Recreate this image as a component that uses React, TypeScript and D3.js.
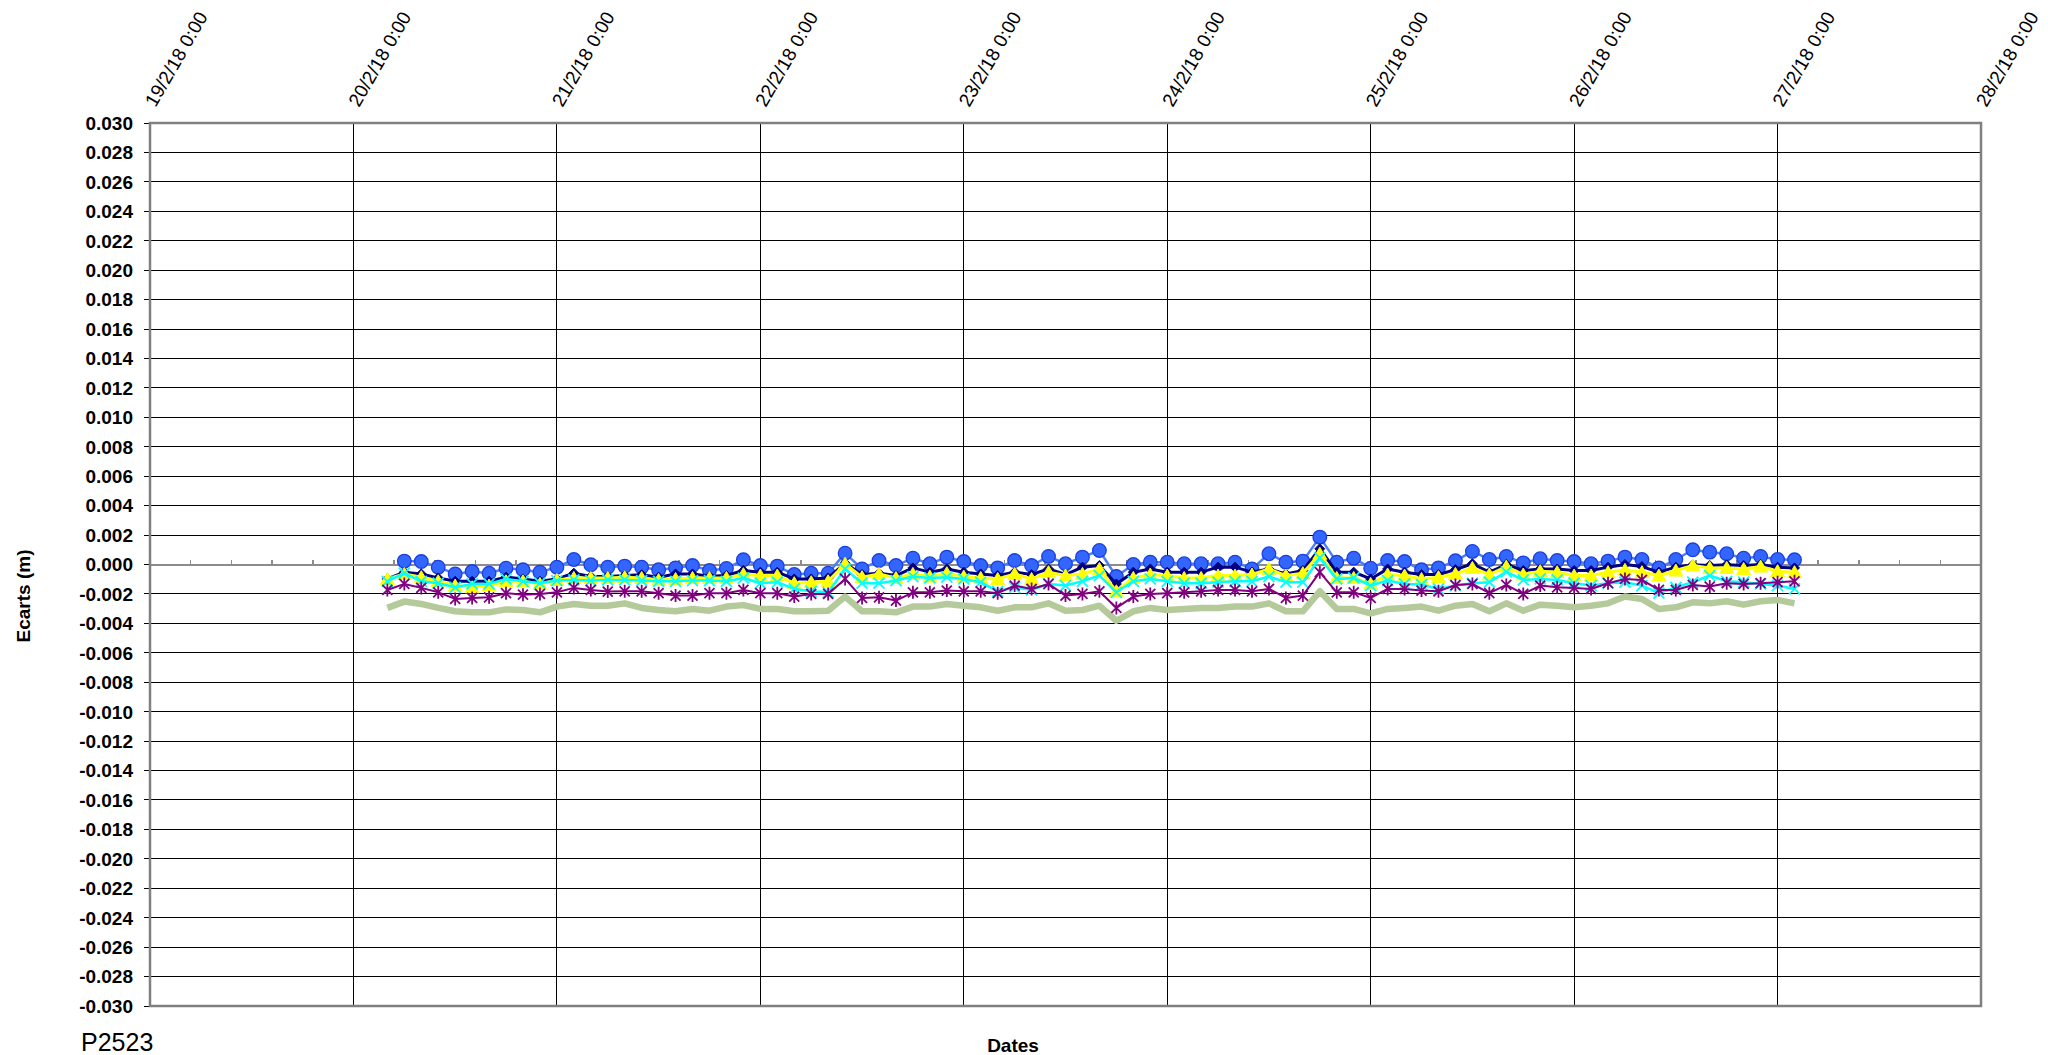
import { useMemo } from 'react';
import * as d3 from 'd3';

// time span of the chart and readings (one every 2 h)
const axisStart = new Date(2018, 1, 19, 0, 0);
const axisEnd = new Date(2018, 1, 28, 0, 0);
const firstReading = new Date(2018, 1, 20, 4, 0);
const lastReading = new Date(2018, 1, 27, 2, 0);

const pointLabel = 'P2523';
const xTitle = 'Dates';
const yTitle = 'Ecarts (m)';

// ecarts (m)
const serieBlue: (number | null)[] = [
  null, 0.00023, 0.0002, -0.00018, -0.00064, -0.00048, -0.00059, -0.00025, -0.00036, -0.00052,
  -0.00018, 0.00034, -0.00002, -0.00018, -0.00011, -0.00018, -0.00036, -0.00023, -0.00007, -0.00041,
  -0.00027, 0.00032, -0.00007, -0.00011, -0.00068, -0.00059, -0.00059, 0.00077, -0.0003, 0.00027,
  -0.00007, 0.00043, 0.00005, 0.0005, 0.0002, -0.00007, -0.00023, 0.00027, -0.00007, 0.00055,
  0.00005, 0.0005, 0.00095, -0.00082, 0.0, 0.00016, 0.00016, 0.00005, 0.00005, 0.00005,
  0.00016, -0.0003, 0.00073, 0.00016, 0.00023, 0.00186, 0.00016, 0.00043, -0.00025, 0.00027,
  0.0002, -0.00036, -0.00023, 0.00025, 0.00089, 0.00034, 0.00055, 0.00011, 0.00039, 0.00027,
  0.0002, 0.00005, 0.00023, 0.0005, 0.00034, -0.00023, 0.00034, 0.001, 0.00084, 0.00073,
  0.00043, 0.00055, 0.00034, 0.00032,
];
const serieNavy: number[] = [
  -0.00098, -0.00052, -0.00064, -0.00091, -0.00114, -0.00114, -0.00114, -0.00086, -0.00098, -0.00114,
  -0.00098, -0.00059, -0.00082, -0.00082, -0.00075, -0.0007, -0.00086, -0.00064, -0.00064, -0.0008,
  -0.00075, -0.00041, -0.00052, -0.00052, -0.00098, -0.00098, -0.00091, 0.00009, -0.00068, -0.00059,
  -0.00075, -0.00023, -0.00052, -0.0003, -0.00052, -0.00064, -0.00075, -0.00052, -0.00068, -0.0003,
  -0.00068, -0.00018, -0.00007, -0.00132, -0.00052, -0.0003, -0.00052, -0.00052, -0.00052, -0.00018,
  -0.00018, -0.00052, -0.0003, -0.00064, -0.00041, 0.00107, -0.00052, -0.00052, -0.00098, -0.0003,
  -0.00052, -0.00068, -0.00068, -0.00035, 0.00005, -0.00052, 0.0, -0.00041, -0.0003, -0.0003,
  -0.00041, -0.00041, -0.00018, 0.0, -0.00014, -0.00052, -0.00018, -0.00002, -0.00007, -0.00002,
  -0.00007, 0.0, -0.00018, -0.00023,
];
const serieYellow: number[] = [
  -0.00098, -0.00064, -0.00086, -0.00114, -0.00143, -0.00155, -0.00143, -0.00114, -0.00114, -0.00132,
  -0.00105, -0.00091, -0.00091, -0.00091, -0.00086, -0.00091, -0.00105, -0.00098, -0.00091, -0.00091,
  -0.00091, -0.00066, -0.00075, -0.00075, -0.00127, -0.0012, -0.00114, 0.00005, -0.00086, -0.00064,
  -0.00091, -0.00064, -0.00082, -0.00059, -0.00082, -0.00091, -0.00098, -0.00064, -0.00098, -0.00052,
  -0.00075, -0.00064, -0.0003, -0.00182, -0.00091, -0.00068, -0.00075, -0.00091, -0.00091, -0.00075,
  -0.00075, -0.00068, -0.0003, -0.00075, -0.00059, 0.00073, -0.00091, -0.00091, -0.00132, -0.00068,
  -0.00075, -0.00098, -0.00086, -0.00064, -0.00023, -0.00068, -0.00014, -0.00068, -0.00045, -0.00052,
  -0.00075, -0.00075, -0.00052, -0.00036, -0.00052, -0.00075, -0.00041, -0.00007, -0.00023, -0.00023,
  -0.0003, -0.00014, -0.00045, -0.00052,
];
const serieCyan: number[] = [
  -0.00114, -0.00059, -0.00114, -0.00127, -0.00155, -0.00132, -0.00132, -0.00098, -0.00114, -0.00127,
  -0.00109, -0.00105, -0.00109, -0.00105, -0.00105, -0.00109, -0.00114, -0.00114, -0.00109, -0.00109,
  -0.00114, -0.00092, -0.00127, -0.0012, -0.00166, -0.00182, -0.00189, -0.0003, -0.00127, -0.00127,
  -0.00109, -0.00082, -0.00091, -0.00086, -0.00098, -0.0012, -0.00182, -0.00155, -0.00173, -0.00132,
  -0.00143, -0.00114, -0.00075, -0.00189, -0.00114, -0.00098, -0.00114, -0.00127, -0.00127, -0.0012,
  -0.00114, -0.00114, -0.00082, -0.0012, -0.0012, 0.00045, -0.00098, -0.00091, -0.00143, -0.00109,
  -0.00132, -0.00136, -0.00166, -0.00143, -0.00127, -0.0012, -0.0005, -0.00105, -0.00098, -0.00105,
  -0.00127, -0.00143, -0.00127, -0.0012, -0.00143, -0.00195, -0.00155, -0.0012, -0.00075, -0.00114,
  -0.0012, -0.00132, -0.00143, -0.00166,
];
const seriePurple: number[] = [
  -0.00173, -0.00132, -0.00159, -0.00189, -0.00234, -0.00227, -0.00223, -0.00195, -0.00205, -0.002,
  -0.00189, -0.00159, -0.00173, -0.00184, -0.00182, -0.00182, -0.00195, -0.00211, -0.00211, -0.00195,
  -0.00195, -0.00173, -0.00195, -0.00195, -0.00218, -0.002, -0.002, -0.00098, -0.00227, -0.00223,
  -0.00245, -0.00189, -0.00189, -0.00177, -0.00182, -0.00182, -0.00195, -0.00143, -0.00166, -0.00132,
  -0.00211, -0.002, -0.00182, -0.00295, -0.00218, -0.002, -0.00195, -0.00189, -0.00182, -0.00173,
  -0.00173, -0.00182, -0.00166, -0.00227, -0.00211, -0.00052, -0.00189, -0.00189, -0.00227, -0.00166,
  -0.00166, -0.00177, -0.00182, -0.0014, -0.00132, -0.00195, -0.00139, -0.002, -0.00143, -0.00155,
  -0.00159, -0.00166, -0.00127, -0.00098, -0.00105, -0.00173, -0.00173, -0.00139, -0.0015, -0.00127,
  -0.00132, -0.00127, -0.0012, -0.00114,
];
const serieGreen: number[] = [
  -0.00295, -0.00252, -0.00268, -0.00295, -0.00318, -0.00325, -0.00325, -0.00305, -0.00309, -0.00325,
  -0.00286, -0.00268, -0.0028, -0.0028, -0.00264, -0.00295, -0.00309, -0.00318, -0.00302, -0.00314,
  -0.00286, -0.00276, -0.00302, -0.00302, -0.00318, -0.00318, -0.00314, -0.00218, -0.00318, -0.00318,
  -0.00325, -0.00286, -0.00286, -0.00268, -0.0028, -0.00291, -0.00314, -0.00291, -0.00291, -0.00264,
  -0.00314, -0.00309, -0.0028, -0.00382, -0.00318, -0.00295, -0.00309, -0.00302, -0.00295, -0.00295,
  -0.00286, -0.00286, -0.00264, -0.00318, -0.00318, -0.00182, -0.00302, -0.00302, -0.00332, -0.00302,
  -0.00295, -0.00286, -0.00314, -0.0028, -0.00268, -0.00318, -0.00264, -0.00314, -0.00273, -0.0028,
  -0.00291, -0.0028, -0.00264, -0.00218, -0.00234, -0.00302, -0.00291, -0.00257, -0.00264, -0.0025,
  -0.00273, -0.0025, -0.00241, -0.00264,
];

const width = 2048;
const height = 1055;
const margin = { top: 123, right: 67, bottom: 49, left: 150 };
const font = '"Liberation Sans", Arial, sans-serif';

type Marker = 'circle' | 'diamond' | 'triangle' | 'x' | 'star' | 'none';
interface Serie {
  values: (number | null)[];
  stroke: string;
  lineWidth: number;
  marker: Marker;
  fill: string;
  markerStroke: string;
}

const series: Serie[] = [
  { values: serieGreen, stroke: '#B5CA9B', lineWidth: 6.5, marker: 'none', fill: 'none', markerStroke: 'none' },
  { values: serieBlue, stroke: '#4C7EF5', lineWidth: 2.5, marker: 'circle', fill: '#3366FF', markerStroke: '#1A3FE0' },
  { values: serieNavy, stroke: '#000080', lineWidth: 3, marker: 'diamond', fill: '#000080', markerStroke: '#000080' },
  { values: serieYellow, stroke: '#FFFF00', lineWidth: 3, marker: 'triangle', fill: '#FFFF00', markerStroke: '#FFFF00' },
  { values: serieCyan, stroke: '#00FFFF', lineWidth: 2.5, marker: 'x', fill: 'none', markerStroke: '#00FFFF' },
  { values: seriePurple, stroke: '#800080', lineWidth: 2, marker: 'star', fill: 'none', markerStroke: '#800080' },
];

const markerPath = (m: Marker) => {
  switch (m) {
    case 'diamond':
      return 'M0,-5L5,0L0,5L-5,0Z';
    case 'triangle':
      return 'M0,-6.5L7,5.5L-7,5.5Z';
    case 'x':
      return 'M-5.5,-5.5L5.5,5.5M-5.5,5.5L5.5,-5.5';
    case 'star':
      return 'M-5,-5L5,5M-5,5L5,-5M0,-6.5L0,6.5';
    default:
      return '';
  }
};

const App = () => {
  const times = useMemo(() => d3.timeHour.every(2)!.range(firstReading, new Date(+lastReading + 1)), []);

  const x = d3
    .scaleTime()
    .domain([axisStart, axisEnd])
    .range([margin.left, width - margin.right]);
  const y = d3
    .scaleLinear()
    .domain([-0.03, 0.03])
    .range([height - margin.bottom, margin.top]);

  const days = d3.timeDay.range(axisStart, new Date(+axisEnd + 1));
  const minor: number[] = [];
  days.slice(0, -1).forEach((d) => {
    for (let k = 1; k < 5; k++) minor.push(x(new Date(+d + k * 0.2 * 864e5)));
  });
  const yTicks = y.ticks(30);
  const fmtY = d3.formatLocale({ decimal: '.', thousands: ',', grouping: [3], currency: ['', ''], minus: '-' }).format('.3f');
  const fmtX = d3.timeFormat('%-d/%-m/%y %-H:%M');

  const line = d3
    .line<number | null>()
    .defined((d) => d !== null)
    .x((_, i) => x(times[i]))
    .y((d) => y(d as number));

  const left = margin.left;
  const right = width - margin.right;
  const top = margin.top;
  const bottom = height - margin.bottom;

  return (
    <div style={{ position: 'absolute', left: 0, top: 0 }}>
      <svg width={width} height={height} style={{ display: 'block', background: '#fff' }} fontFamily={font}>
        {/* gridlines */}
        <g shapeRendering="crispEdges">
          {yTicks.map((t) => (
            <line key={'h' + t} x1={left} x2={right} y1={y(t)} y2={y(t)} stroke="#000" strokeWidth={1} />
          ))}
          {days.map((d) => (
            <line key={'v' + +d} x1={x(d)} x2={x(d)} y1={top} y2={bottom} stroke="#000" strokeWidth={1} />
          ))}
          {yTicks.map((t) => (
            <line key={'t' + t} x1={left - 6} x2={left} y1={y(t)} y2={y(t)} stroke="#000" strokeWidth={1} />
          ))}
        </g>
        {/* x axis on zero */}
        <g shapeRendering="crispEdges">
          <line x1={left} x2={right} y1={y(0)} y2={y(0)} stroke="#8C8C8C" strokeWidth={2} />
          {minor.map((m, i) => (
            <line key={i} x1={m} x2={m} y1={y(0) - 5} y2={y(0)} stroke="#8C8C8C" strokeWidth={1.5} />
          ))}
        </g>
        <rect x={left} y={top} width={right - left} height={bottom - top} fill="none" stroke="#808080" strokeWidth={2.5} />

        {/* series */}
        {series.map((s, si) => (
          <g key={si}>
            <path
              d={line(s.values) ?? ''}
              fill="none"
              stroke={s.stroke}
              strokeWidth={s.lineWidth}
              strokeLinejoin="round"
            />
            {s.marker !== 'none' &&
              s.values.map((v, i) =>
                v === null ? null : s.marker === 'circle' ? (
                  <circle key={i} cx={x(times[i])} cy={y(v)} r={6.8} fill={s.fill} stroke={s.markerStroke} strokeWidth={1.3} />
                ) : (
                  <path
                    key={i}
                    transform={`translate(${x(times[i])},${y(v)})`}
                    d={markerPath(s.marker)}
                    fill={s.fill}
                    stroke={s.markerStroke}
                    strokeWidth={s.marker === 'x' || s.marker === 'star' ? 1.8 : 1}
                  />
                ),
              )}
          </g>
        ))}

        {/* y tick labels */}
        {yTicks.map((t) => (
          <text key={'l' + t} x={133} y={y(t)} dy="0.36em" textAnchor="end" fontSize={19} fontWeight="bold" fill="#000">
            {fmtY(t)}
          </text>
        ))}
        {/* x tick labels */}
        {days.map((d) => (
          <text
            key={'xl' + +d}
            transform={`translate(${x(d) + 5.5},${top - 15}) rotate(-60)`}
            fontSize={19}
            fill="#000"
          >
            {fmtX(d)}
          </text>
        ))}

        <text transform={`translate(23,596) rotate(-90)`} dy="0.36em" textAnchor="middle" fontSize={19} fontWeight="bold">
          {yTitle}
        </text>
        <text x={1013} y={1052} textAnchor="middle" fontSize={19} fontWeight="bold">
          {xTitle}
        </text>
        <text x={81} y={1051} fontSize={25}>
          {pointLabel}
        </text>
      </svg>
    </div>
  );
};

export default App;
